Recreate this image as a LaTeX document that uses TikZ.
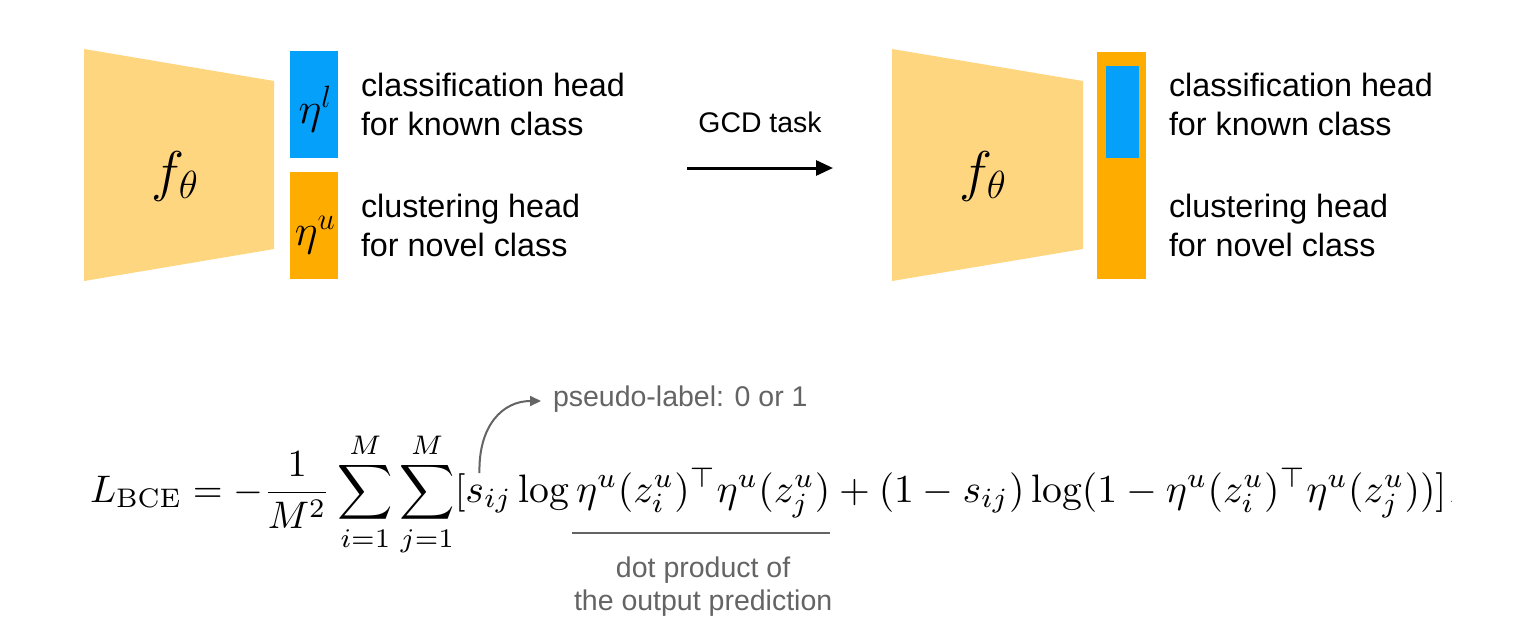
\documentclass[tikz,border=0pt]{standalone}
\usepackage{fix-cm}
\usepackage{amsmath}
\usepackage{fontspec}
\newfontfamily\hsans{Liberation Sans}
\usetikzlibrary{arrows.meta,calc}
\definecolor{trap}{RGB}{255,214,128}
\definecolor{hblue}{RGB}{5,160,250}
\definecolor{horange}{RGB}{255,172,0}
\definecolor{anno}{RGB}{100,100,100}
\newcommand{\bigmath}[1]{\scalebox{3.84}{#1}}
\newcommand{\bigmathb}[1]{\scalebox{3.97}{#1}}
\begin{document}
\begin{tikzpicture}[x=1pt,y=-1pt,
  lbl/.style={font=\hsans\fontsize{32.3}{38}\selectfont, anchor=base west, inner sep=0pt, outer sep=0pt},
  ann/.style={font=\hsans\fontsize{28.5}{33}\selectfont, text=anno, inner sep=0pt, outer sep=0pt},
  mth/.style={anchor=base west, inner sep=0pt, outer sep=0pt},
  fnode/.style={font=\fontsize{56}{64}\selectfont, anchor=base, inner sep=0pt},
  enode/.style={font=\fontsize{44}{50}\selectfont, anchor=base, inner sep=0pt},
  trapfill/.style={fill=trap},
  ]
\useasboundingbox (0,0) rectangle (1520,640);
\fill[white] (0,0) rectangle (1520,640);

% ---- left model ----
\fill[trapfill] (84,49) -- (274,81) -- (274,249) -- (84,281) -- cycle;
\node[fnode] (f1) at (175,190) {$f_\theta$};
\fill[hblue] (290,51) rectangle (338,158);
\fill[horange] (290,172) rectangle (338,279);
\node[enode] (etal) at (315,123) {$\eta^l$};
\node[enode] (etau) at (315,245) {$\eta^u$};
\node[lbl] (t1) at (361,96) {classification head};
\node[lbl] (t2) at (361,135) {for known class};
\node[lbl] (t3) at (361,217) {clustering head};
\node[lbl] (t4) at (361,256) {for novel class};

% ---- arrow ----
\node[font=\hsans\fontsize{28.4}{34}\selectfont, anchor=base, inner sep=0pt] (gcd) at (760,132) {GCD task};
\coordinate (a1) at (687,168);
\coordinate (a2) at (833,168);
\draw[line width=3pt, -{Triangle[length=17pt,width=15pt]}] (a1) -- (a2);

% ---- right model ----
\fill[trapfill] (892,49) -- (1083,81) -- (1083,249) -- (892,281) -- cycle;
\node[fnode] (f2) at (983,190) {$f_\theta$};
\fill[horange] (1097,52) rectangle (1146,279);
\fill[hblue] (1106,66) rectangle (1139,158);
\node[lbl] (r1) at (1169,96) {classification head};
\node[lbl] (r2) at (1169,135) {for known class};
\node[lbl] (r3) at (1169,217) {clustering head};
\node[lbl] (r4) at (1169,256) {for novel class};

% ---- formula ----
\node[mth] (A) at (90,502) {\bigmath{$\displaystyle L_{\mathrm{BCE}}=-\frac{1}{M^2}\sum_{i=1}^{M}\sum_{j=1}^{M}[$}};
\node[mth] (B1) at (A.base east) {\bigmathb{$s_{ij}\log\,$}};
\node[mth] (B2) at (B1.base east) {\bigmathb{$\eta^u(z_i^u)^\top\eta^u(z_j^u)$}};
\node[mth] (B3) at (B2.base east) {\bigmathb{${}+(1-s_{ij})\log(1-\eta^u(z_i^u)^\top\eta^u(z_j^u))]$}};
\node[font=\fontsize{16}{18}\selectfont, text=anno, anchor=base west, inner sep=0pt] (dot) at ($(B3.base east)+(3,0)$) {.};

% ---- annotations ----
\node[ann, anchor=base west] (pl) at (553,406) {pseudo-label: 0 or 1};
\coordinate (sstart) at ($(B1.base west)+(14,-29)$);
\coordinate (stip) at ($(pl.base west)+(-12,-5)$);
\draw[anno, line width=2pt, -{Triangle[length=11pt,width=10pt]}] (sstart) .. controls ($(sstart)+(-1,-48)$) and ($(stip)+(-38,0)$) .. (stip);
\coordinate (ul1) at ($(B2.base west)+(-4,31)$);
\coordinate (ul2) at ($(B2.base east)+(0,31)$);
\draw[anno, line width=1.5pt] (ul1) -- (ul2);
\node[ann, anchor=base] (dp1) at ($(B2.base)+(0,75)$) {dot product of};
\node[ann, anchor=base] (dp2) at ($(B2.base)+(0,108)$) {the output prediction};
\end{tikzpicture}
\end{document}
